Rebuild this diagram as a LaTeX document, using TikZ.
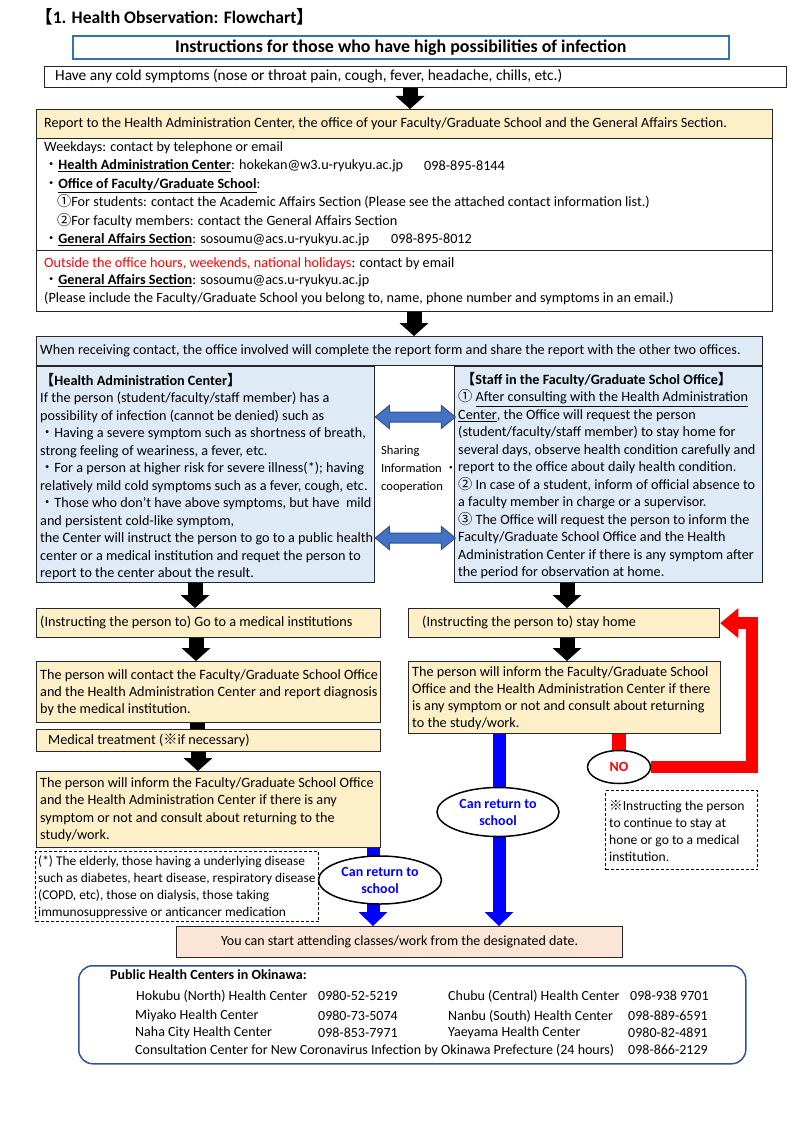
\documentclass[tikz,border=0pt]{standalone}
\usepackage{fontspec}
\setmainfont{Carlito}
\newfontfamily\cjk{Noto Sans CJK JP}
\usetikzlibrary{arrows.meta,shapes.geometric}
\definecolor{yel}{HTML}{FDF0C9}
\definecolor{lblue}{HTML}{DEEBF7}
\definecolor{pinkbg}{HTML}{FBE5D6}
\definecolor{instb}{HTML}{2E75B6}
\definecolor{dblfill}{HTML}{4472C4}
\definecolor{dbldraw}{HTML}{2F528F}
\definecolor{phcb}{HTML}{2F5597}
\definecolor{cblue}{HTML}{0000FF}
\newcommand\myfs[2]{\fontsize{#1}{#2}\selectfont}
\newcommand\jb{{\cjk ・}}
\newcommand\jc[1]{{\cjk #1}}
\newcommand\ub[1]{\underline{\textbf{#1}}}
\begin{document}
\begin{tikzpicture}[x=1pt,y=-1pt,
 bx/.style={draw=black!85, line width=1.3pt, anchor=north west, inner sep=0pt},
 tx/.style={anchor=west, inner sep=0pt, align=left, font=\myfs{14.2}{17.5}},
 blk/.style={line width=15pt, draw=black, -{Triangle[width=29pt,length=13pt,line width=0pt]}},
 blu/.style={line width=13pt, draw=cblue, -{Triangle[width=29pt,length=14pt,line width=0pt]}},
 redarr/.style={line width=12pt, draw=red, line join=miter, -{Triangle[width=30pt,length=18pt,line width=0pt]}},
 ell/.style={ellipse, draw=black, line width=1.5pt, fill=white, inner sep=0pt, align=center, font=\bfseries\myfs{14}{17}},
 dbl/.style={fill=dblfill, draw=dbldraw, line width=1pt, line join=miter},
 dsh/.style={draw=black, line width=1.2pt, dash pattern=on 3pt off 2pt, anchor=north west, inner sep=0pt},
]
\useasboundingbox (0,0) rectangle (800,1131);
\fill[white] (0,0) rectangle (800,1131);

% title
\node[anchor=west, inner sep=0pt, font=\bfseries\myfs{17.6}{20}] (title) at (35,17) {\jc{【}1. Health Observation: Flowchart\jc{】}};
\node[bx, draw=instb, line width=1.6pt, minimum width=656, minimum height=23, font=\bfseries\myfs{17.9}{20}] (instr) at (72,35) {Instructions for those who have high possibilities of infection};

% boxes
\node[bx, fill=white, minimum width=742, minimum height=21] (have) at (44,66) {};
\node[bx, fill=yel, minimum width=736, minimum height=29] (report) at (36,109) {};
\node[bx, fill=white, minimum width=736, minimum height=112] (wk) at (36,138) {};
\node[bx, fill=white, minimum width=736, minimum height=61] (oh) at (36,250) {};
\node[bx, fill=lblue, minimum width=726, minimum height=29] (hdr) at (36,336) {};
\node[bx, fill=lblue, minimum width=338, minimum height=216] (hac) at (36,366) {};
\node[bx, fill=lblue, minimum width=308, minimum height=216] (staff) at (454,366) {};
\node[bx, fill=yel, minimum width=344, minimum height=29] (goMed) at (36,608) {};
\node[bx, fill=yel, minimum width=311, minimum height=29] (home) at (408,608) {};
\node[bx, fill=yel, minimum width=344, minimum height=61] (contact) at (36,661) {};
\node[bx, fill=yel, minimum width=344, minimum height=22] (medtr) at (36,729) {};
\node[bx, fill=yel, minimum width=344, minimum height=76] (infL) at (36,771) {};
\node[bx, fill=yel, minimum width=312, minimum height=72] (infR) at (408,661) {};
\node[bx, fill=pinkbg, minimum width=446, minimum height=31, font=\myfs{14}{17}] (pink) at (176,926) {You can start attending classes/work from the designated date.};
\node[bx, draw=phcb, line width=1.5pt, rounded corners=14pt, minimum width=667, minimum height=98] (phc) at (78,965) {};
\node[dsh, minimum width=283, minimum height=70] (foot) at (35,851) {};
\node[dsh, minimum width=152, minimum height=79] (note) at (605,790) {};

% texts
\node[tx, font=\myfs{15.4}{18}] (haveT) at (55,76.5) {Have any cold symptoms (nose or throat pain, cough, fever, headache, chills, etc.)};
\node[tx] (reportT) at (44,123.5) {Report to the Health Administration Center, the office of your Faculty/Graduate School and the General Affairs Section.};
\node[tx, font=\myfs{14.2}{18.4}] (wkT) at (44,193.75) {Weekdays: contact by telephone or email\\
\jb\ub{Health Administration Center}: hokekan@w3.u-ryukyu.ac.jp\\
\jb\ub{Office of Faculty/Graduate School}:\\
\hspace*{13pt}\jc{①}For students: contact the Academic Affairs Section (Please see the attached contact information list.)\\
\hspace*{13pt}\jc{②}For faculty members: contact the General Affairs Section\\
\jb\ub{General Affairs Section}: sosoumu@acs.u-ryukyu.ac.jp};
\node[tx] (ph1) at (424,166) {098-895-8144};
\node[tx] (ph2) at (391,239) {098-895-8012};
\node[tx] (ohT) at (44,281.25) {\textcolor{red}{Outside the office hours, weekends, national holidays}: contact by email\\
\jb\ub{General Affairs Section}: sosoumu@acs.u-ryukyu.ac.jp\\
(Please include the Faculty/Graduate School you belong to, name, phone number and symptoms in an email.)};
\node[tx] (hdrT) at (40,351) {When receiving contact, the office involved will complete the report form and share the report with the other two offices.};
\node[tx] (hacT) at (40,476.75) {\textbf{\jc{【}Health Administration Center\jc{】}}\\
If the person (student/faculty/staff member) has a\\
possibility of infection (cannot be denied) such as\\
\jb Having a severe symptom such as shortness of breath,\\
strong feeling of weariness, a fever, etc.\\
\jb For a person at higher risk for severe illness(*); having\\
relatively mild cold symptoms such as a fever, cough, etc.\\
\jb Those who don't have above symptoms, but have\ \ mild\\
and persistent cold-like symptom,\\
the Center will instruct the person to go to a public health\\
center or a medical institution and requet the person to\\
report to the center about the result.};
\node[tx] (staffT) at (458,475.75) {\hspace*{3pt}\textbf{\jc{【}Staff in the Faculty/Graduate Schol Office\jc{】}}\\
\jc{①} \underline{After consulting with the Health Administration}\\
\underline{Center}, the Office will request the person\\
(student/faculty/staff member) to stay home for\\
several days, observe health condition carefully and\\
report to the office about daily health condition.\\
\jc{②} In case of a student, inform of official absence to\\
a faculty member in charge or a supervisor.\\
\jc{③} The Office will request the person to inform the\\
Faculty/Graduate School Office and the Health\\
Administration Center if there is any symptom after\\
the period for observation at home.};
\node[tx, font=\myfs{12.6}{18}] (shareT) at (381,469) {Sharing\\Information \jc{・}\\cooperation};
\node[tx] (goMedT) at (40,623) {(Instructing the person to) Go to a medical institutions};
\node[tx] (homeT) at (422,622.5) {(Instructing the person to) stay home};
\node[tx, font=\myfs{14.2}{17}] (contactT) at (40,692.75) {The person will contact the Faculty/Graduate School Office\\
and the Health Administration Center and report diagnosis\\
by the medical institution.};
\node[tx] (medtrT) at (48,740) {Medical treatment (\jc{※}if necessary)};
\node[tx, font=\myfs{14.2}{17.3}] (infLT) at (40,809.75) {The person will inform the Faculty/Graduate School Office\\
and the Health Administration Center if there is any\\
symptom or not and consult about returning to the\\
study/work.};
\node[tx, font=\myfs{14.2}{17}] (infRT) at (412,698) {The person will inform the Faculty/Graduate School\\
Office and the Health Administration Center if there\\
is any symptom or not and consult about returning\\
to the study/work.};
\node[tx, font=\myfs{13.4}{17}] (footT) at (38,887) {(*) The elderly, those having a underlying disease\\
such as diabetes, heart disease, respiratory disease\\
(COPD, etc), those on dialysis, those taking\\
immunosuppressive or anticancer medication};
\node[tx, font=\myfs{13.6}{17}] (noteT) at (609,831) {\jc{※}Instructing the person\\
to continue to stay at\\
hone or go to a medical\\
institution.};

% bottom table
\node[anchor=west, inner sep=0pt, font=\bfseries\myfs{14}{16}] (phT) at (110,975) {Public Health Centers in Okinawa:};
\node[tx, font=\myfs{14}{16}] (r1a) at (136,996) {Hokubu (North) Health Center};
\node[tx, font=\myfs{14}{16}] (r1b) at (318,996) {0980-52-5219};
\node[tx, font=\myfs{14}{16}] (r1c) at (448,996) {Chubu (Central) Health Center};
\node[tx, font=\myfs{14}{16}] (r1d) at (630,996) {098-938 9701};
\node[tx, font=\myfs{14}{16}] (r2a) at (135,1016) {Miyako Health Center};
\node[tx, font=\myfs{14}{16}] (r2b) at (318,1016) {0980-73-5074};
\node[tx, font=\myfs{14}{16}] (r2c) at (448,1016) {Nanbu (South) Health Center};
\node[tx, font=\myfs{14}{16}] (r2d) at (628,1016) {098-889-6591};
\node[tx, font=\myfs{14}{16}] (r3a) at (135,1033) {Naha City Health Center};
\node[tx, font=\myfs{14}{16}] (r3b) at (318,1033) {098-853-7971};
\node[tx, font=\myfs{14}{16}] (r3c) at (448,1033) {Yaeyama Health Center};
\node[tx, font=\myfs{14}{16}] (r3d) at (628,1033) {0980-82-4891};
\node[tx, font=\myfs{14}{16}] (r4a) at (135,1050) {Consultation Center for New Coronavirus Infection by Okinawa Prefecture (24 hours)};
\node[tx, font=\myfs{14}{16}] (r4d) at (628,1050) {098-866-2129};

% black arrows
\draw[blk] (have.south -| 410,0) -- (report.north -| 410,0);
\draw[blk] (oh.south -| 414,0) -- (hdr.north -| 414,0);
\draw[blk] (hac.south -| 195,0) -- (goMed.north -| 195,0);
\draw[blk] (staff.south -| 567,0) -- (home.north -| 567,0);
\draw[blk] (goMed.south -| 196,0) -- (contact.north -| 196,0);
\draw[blk] (home.south -| 567,0) -- (infR.north -| 567,0);
\draw[line width=15pt] (contact.south -| 197,0) -- (medtr.north -| 197,0);
\draw[blk] (medtr.south -| 198,0) -- (infL.north -| 198,0);

% sharing double arrows
\draw[dbl] (hac.east |- 0,417) -- ++(14,-11.5) -- ++(0,6.5) -- ++(52,0) -- ++(0,-6.5) -- ++(14,11.5) -- ++(-14,11.5) -- ++(0,-6.5) -- ++(-52,0) -- ++(0,6.5) -- cycle;
\draw[dbl] (hac.east |- 0,538) -- ++(14,-11.5) -- ++(0,6.5) -- ++(52,0) -- ++(0,-6.5) -- ++(14,11.5) -- ++(-14,11.5) -- ++(0,-6.5) -- ++(-52,0) -- ++(0,6.5) -- cycle;

% blue arrows
\draw[blu] (infL.south -| 373,0) -- (pink.north -| 373,0);
\draw[blu] (infR.south -| 499,0) -- (pink.north -| 499,0);

% ellipses
\node[ell, text=cblue, minimum width=123, minimum height=48] (cr1) at (380,880) {Can return to\\school};
\node[ell, text=cblue, minimum width=122, minimum height=49] (cr2) at (498,812) {Can return to\\school};
\node[ell, text=red, minimum width=63, minimum height=33] (no) at (619,767) {NO};

% red connectors
\draw[line width=14pt, red] (infR.south -| no.north) -- (no.north);
\draw[redarr] (no.east) -| (home.east -| 752,0) -- (home.east);
\end{tikzpicture}
\end{document}
